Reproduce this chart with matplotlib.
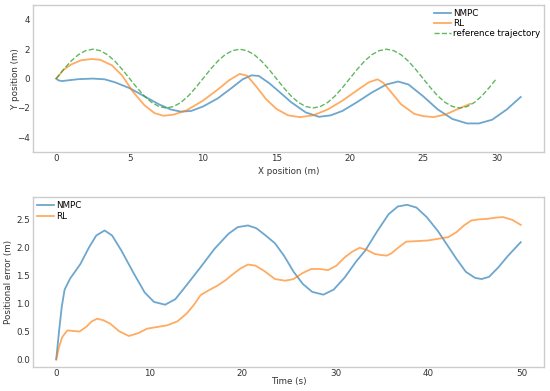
import matplotlib
matplotlib.use("Agg")
import matplotlib.pyplot as plt

# ---- top panel: trajectories ----
ref_x = [i * 0.5 for i in range(61)]
ref_y = [0.00, 0.62, 1.18, 1.62, 1.90, 2.00, 1.90, 1.62, 1.18, 0.62,
         0.00, -0.62, -1.18, -1.62, -1.90, -2.00, -1.90, -1.62, -1.18, -0.62,
         0.00, 0.62, 1.18, 1.62, 1.90, 2.00, 1.90, 1.62, 1.18, 0.62,
         0.00, -0.62, -1.18, -1.62, -1.90, -2.00, -1.90, -1.62, -1.18, -0.62,
         0.00, 0.62, 1.18, 1.62, 1.90, 2.00, 1.90, 1.62, 1.18, 0.62,
         0.00, -0.62, -1.18, -1.62, -1.90, -2.00, -1.90, -1.62, -1.18, -0.62,
         0.00]

nmpc_x = [0, 0.15, 0.4, 0.8, 1.5, 2.5, 3.3, 4, 5, 6, 7, 7.8, 8.5, 9.2, 10, 11, 12,
          12.7, 13.3, 13.8, 14.5, 15.2, 16, 17, 17.9, 18.7, 19.5, 20.5, 21.5, 22.5,
          23.3, 24, 25, 26, 27, 28, 28.8, 29.7, 30.7, 31.65]
nmpc_y = [0, -0.12, -0.17, -0.12, -0.04, 0.0, -0.05, -0.25, -0.65, -1.2, -1.75, -2.1,
          -2.25, -2.2, -1.9, -1.35, -0.6, -0.05, 0.22, 0.18, -0.3, -0.9, -1.6, -2.3,
          -2.6, -2.5, -2.2, -1.6, -0.95, -0.4, -0.2, -0.4, -1.2, -2.1, -2.75, -3.05,
          -3.05, -2.8, -2.1, -1.25]

rl_x = [0, 0.5, 1, 1.7, 2.4, 3, 3.8, 4.5, 5.2, 6, 6.7, 7.3, 8, 8.9, 10, 11, 11.8,
        12.5, 13, 13.6, 14.3, 15, 15.8, 16.6, 17.5, 18.5, 19.5, 20.5, 21.3, 21.9,
        22.3, 22.8, 23.5, 24.4, 25, 25.7, 26.5, 27.3, 28.2]
rl_y = [0, 0.6, 0.95, 1.25, 1.33, 1.28, 0.9, 0.2, -0.86, -1.8, -2.35, -2.53, -2.45,
        -2.15, -1.5, -0.75, -0.1, 0.32, 0.2, -0.5, -1.4, -2.06, -2.5, -2.62, -2.5,
        -2.1, -1.5, -0.8, -0.25, -0.05, -0.3, -0.9, -1.75, -2.4, -2.55, -2.62, -2.45,
        -2.1, -1.72]

# ---- bottom panel: positional error ----
nmpc_t = [0, 0.3, 0.6, 0.9, 1.5, 2.6, 3.5, 4.3, 5.2, 6, 7, 8.3, 9.5, 10.5, 11.7, 12.8,
          14, 15.5, 17, 18.5, 19.5, 20.6, 21.5, 22.5, 23.5, 24.5, 25.5, 26.5, 27.5,
          28.7, 29.8, 31, 32.2, 33.2, 34.5, 35.7, 36.7, 37.7, 38.7, 39.8, 41, 42, 43,
          44, 45, 45.7, 46.5, 47.5, 48.5, 49.9]
nmpc_e = [0, 0.5, 0.95, 1.25, 1.45, 1.71, 2.0, 2.22, 2.31, 2.22, 1.95, 1.55, 1.2, 1.03,
          0.98, 1.08, 1.33, 1.65, 1.98, 2.25, 2.37, 2.40, 2.35, 2.22, 2.08, 1.85, 1.57,
          1.35, 1.21, 1.16, 1.25, 1.47, 1.75, 1.95, 2.3, 2.6, 2.74, 2.77, 2.72, 2.55,
          2.3, 2.05, 1.8, 1.57, 1.46, 1.44, 1.48, 1.65, 1.85, 2.10]

rl_t = [0, 0.3, 0.64, 1.2, 1.8, 2.5, 3.2, 3.8, 4.4, 5.1, 5.8, 6.8, 7.8, 8.8, 9.75, 10.8,
        11.9, 13, 14, 14.8, 15.5, 16.4, 17.3, 18.2, 19, 19.8, 20.6, 21.4, 22.3, 23.5,
        24.6, 25.5, 26.5, 27.4, 28.3, 29.2, 30.1, 31, 31.8, 32.6, 33.4, 34.2, 34.9,
        35.5, 36, 36.8, 37.6, 38.8, 39.9, 41, 42.1, 43, 43.8, 44.6, 45.5, 46.4, 47.2,
        48, 49, 49.9]
rl_e = [0, 0.22, 0.40, 0.52, 0.51, 0.50, 0.58, 0.68, 0.73, 0.70, 0.64, 0.50, 0.42, 0.47,
        0.55, 0.58, 0.61, 0.68, 0.82, 0.98, 1.15, 1.24, 1.32, 1.42, 1.53, 1.63, 1.70,
        1.68, 1.59, 1.44, 1.41, 1.44, 1.55, 1.62, 1.62, 1.60, 1.68, 1.83, 1.93, 2.00,
        1.96, 1.89, 1.87, 1.86, 1.90, 2.01, 2.11, 2.12, 2.13, 2.16, 2.19, 2.28, 2.40,
        2.49, 2.51, 2.52, 2.54, 2.55, 2.50, 2.41]

BLUE = "#1f77b4"
ORANGE = "#ff7f0e"
GREEN = "#2ca02c"
SPINE = "#cccccc"
TXT = "#333333"
FS = 6.3

plt.rcParams["font.family"] = ["DejaVu Sans"]
fig = plt.figure(figsize=(5.5, 3.91), dpi=100)
ax1 = fig.add_axes([0.06, 0.611, 0.929, 0.376])
ax2 = fig.add_axes([0.06, 0.061, 0.929, 0.435])

ax1.plot(nmpc_x, nmpc_y, color=BLUE, alpha=0.65, lw=1.3, label="NMPC")
ax1.plot(rl_x, rl_y, color=ORANGE, alpha=0.65, lw=1.3, label="RL")
ax1.plot(ref_x, ref_y, color=GREEN, alpha=0.75, lw=1.0, ls="--", label="reference trajectory")
ax1.set_ylim(-5, 5)
ax1.set_yticks([-4, -2, 0, 2, 4])
ax1.set_xticks([0, 5, 10, 15, 20, 25, 30])
ax1.set_xlabel("X position (m)", fontsize=FS, color=TXT)
ax1.set_ylabel("Y position (m)", fontsize=FS, color=TXT)
ax1.xaxis.set_label_coords(0.5, -0.102)
ax1.yaxis.set_label_coords(-0.026, 0.5)
ax1.legend(loc="upper right", frameon=False, fontsize=FS, handlelength=2.0,
           handletextpad=0.25, labelspacing=0.12, borderaxespad=0.1, borderpad=0.3)

ax2.plot(nmpc_t, nmpc_e, color=BLUE, alpha=0.65, lw=1.3, label="NMPC")
ax2.plot(rl_t, rl_e, color=ORANGE, alpha=0.65, lw=1.3, label="RL")
ax2.set_yticks([0.0, 0.5, 1.0, 1.5, 2.0, 2.5])
ax2.set_xticks([0, 10, 20, 30, 40, 50])
ax2.set_xlabel("Time (s)", fontsize=FS, color=TXT)
ax2.set_ylabel("Positional error (m)", fontsize=FS, color=TXT)
ax2.xaxis.set_label_coords(0.5, -0.059)
ax2.yaxis.set_label_coords(-0.039, 0.5)
ax2.legend(loc="upper left", frameon=False, fontsize=FS, handlelength=2.0,
           handletextpad=0.25, labelspacing=0.25, borderaxespad=0.1, borderpad=0.3)

for ax in (ax1, ax2):
    for s in ax.spines.values():
        s.set_color(SPINE)
        s.set_linewidth(1.0)
    ax.tick_params(axis="x", length=0, pad=1.5, labelsize=FS, labelcolor=TXT)
    ax.tick_params(axis="y", length=0, pad=2, labelsize=FS, labelcolor=TXT)

fig.savefig("out.png", dpi=100)
